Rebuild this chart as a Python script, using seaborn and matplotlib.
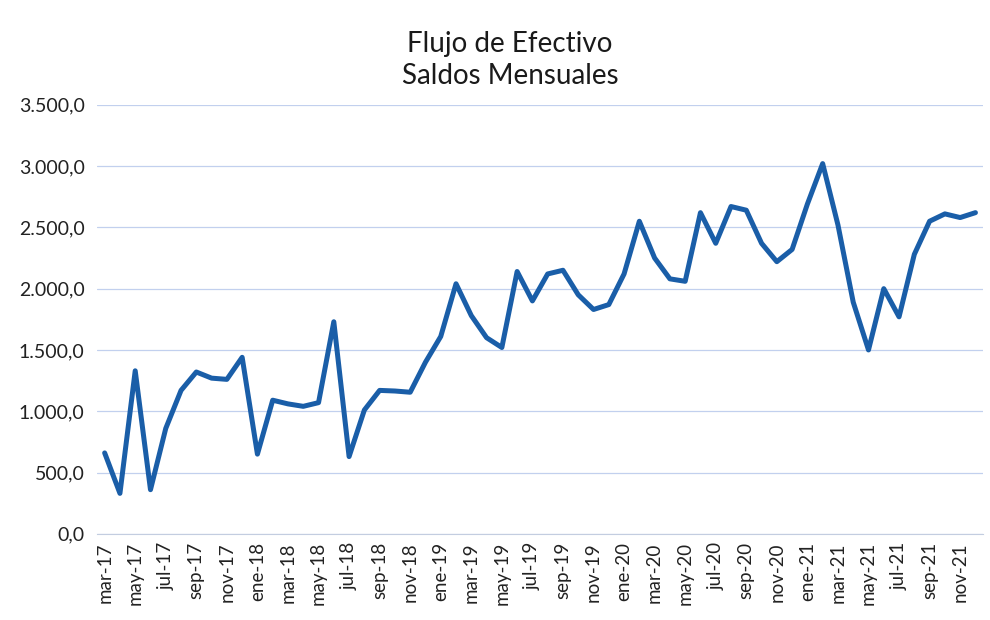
import matplotlib.pyplot as plt
import matplotlib.ticker as mticker
import seaborn as sns
import pandas as pd
import numpy as np

# meses mar-17 .. dic-21
meses = ["mar-17", "abr-17", "may-17", "jun-17", "jul-17", "ago-17", "sep-17", "oct-17", "nov-17", "dic-17",
         "ene-18", "feb-18", "mar-18", "abr-18", "may-18", "jun-18", "jul-18", "ago-18", "sep-18", "oct-18", "nov-18", "dic-18",
         "ene-19", "feb-19", "mar-19", "abr-19", "may-19", "jun-19", "jul-19", "ago-19", "sep-19", "oct-19", "nov-19", "dic-19",
         "ene-20", "feb-20", "mar-20", "abr-20", "may-20", "jun-20", "jul-20", "ago-20", "sep-20", "oct-20", "nov-20", "dic-20",
         "ene-21", "feb-21", "mar-21", "abr-21", "may-21", "jun-21", "jul-21", "ago-21", "sep-21", "oct-21", "nov-21", "dic-21"]

saldos = [660, 330, 1330, 360, 860, 1170, 1320, 1270, 1260, 1440,
          650, 1090, 1060, 1040, 1070, 1730, 630, 1010, 1170, 1165, 1155, 1400,
          1610, 2040, 1780, 1600, 1520, 2140, 1900, 2120, 2150, 1950, 1830, 1870,
          2120, 2550, 2250, 2080, 2060, 2620, 2370, 2670, 2640, 2370, 2220, 2320,
          2690, 3020, 2520, 1890, 1500, 2000, 1770, 2280, 2550, 2610, 2580, 2620]

df = pd.DataFrame({"pos": np.arange(len(meses)), "mes": meses, "saldo": saldos})

sns.set_style("white")
plt.rcParams["font.family"] = ["Lato", "DejaVu Sans"]

fig = plt.figure(figsize=(9.9, 6.2), dpi=100)
ax = fig.add_axes([0.098, 0.139, 0.895, 0.692])

sns.lineplot(data=df, x="pos", y="saldo", color="#1a5ea8", linewidth=3.6, ax=ax)

ax.set_xlim(-0.5, len(meses) - 0.5)
ax.set_ylim(0, 3500)
ax.set_yticks(np.arange(0, 3501, 500))
ax.yaxis.set_major_formatter(mticker.FuncFormatter(
    lambda v, p: f"{v:,.1f}".replace(",", "X").replace(".", ",").replace("X", ".")))
ax.grid(axis="y", color="#c2d0ee", linewidth=0.9)
ax.set_axisbelow(True)

ax.set_xticks(df["pos"][::2])
ax.set_xticklabels(df["mes"][::2], rotation=90)
ax.set_xticks(np.arange(-0.5, len(meses), 1), minor=True)
ax.tick_params(axis="x", which="major", length=0, labelsize=13.5, pad=6, colors="#222222")
ax.tick_params(axis="x", which="minor", length=4, color="#c3cde0", width=1)
ax.tick_params(axis="y", length=0, labelsize=14, pad=9, colors="#222222")

for s in ["top", "right", "left"]:
    ax.spines[s].set_visible(False)
ax.spines["bottom"].set_color("#c3cde0")

ax.set_xlabel("")
ax.set_ylabel("")

fig.text(0.515, 0.903, "Flujo de Efectivo\nSaldos Mensuales", ha="center", va="center",
         fontsize=20, linespacing=1.3, color="#1a1a1a")

fig.savefig("out.png", dpi=100)
